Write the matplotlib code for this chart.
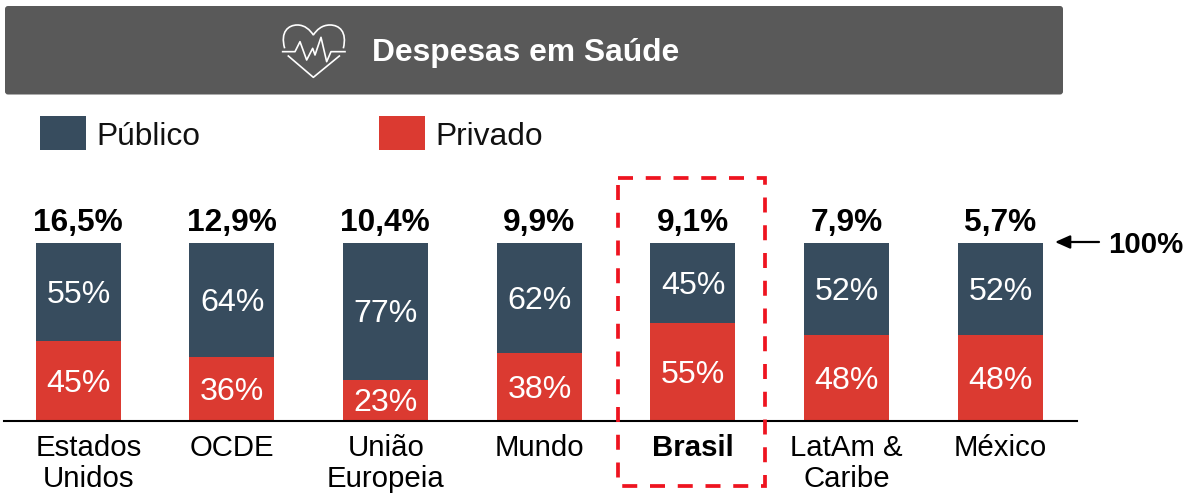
import matplotlib
matplotlib.use("Agg")
import matplotlib.pyplot as plt
from matplotlib.patches import FancyBboxPatch, PathPatch, Rectangle
from matplotlib.path import Path

plt.rcParams['font.family'] = ['Liberation Sans', 'DejaVu Sans']

categories = ["Estados\nUnidos", "OCDE", "União\nEuropeia", "Mundo", "Brasil", "LatAm &\nCaribe", "México"]
totals = ["16,5%", "12,9%", "10,4%", "9,9%", "9,1%", "7,9%", "5,7%"]
privado = [45, 36, 23, 38, 55, 48, 48]
publico = [55, 64, 77, 62, 45, 52, 52]
highlight = "Brasil"

color_pub = "#374C5E"
color_priv = "#DB3A31"
W, H = 1192, 498
FS = 23.1

fig = plt.figure(figsize=(W / 100, H / 100), dpi=100)

# overlay in pixel coords, for header, legend and frame
over = fig.add_axes([0, 0, 1, 1], zorder=3)
over.set_xlim(0, W)
over.set_ylim(H, 0)
over.axis("off")

# bars: x 0..6 -> centres 78..1000 px, y 0..100 -> 420..243 px
ax = fig.add_axes([4 / W, (H - 420.5) / H, (1077 - 4) / W, (420.5 - 243) / H], zorder=2)
ax.patch.set_alpha(0)
step = (1000 - 78) / 6
ax.set_xlim((4 - 78) / step, (1077 - 78) / step)
ax.set_ylim(0, 100)
x = list(range(len(categories)))
ax.bar(x, privado, width=85 / step, color=color_priv, linewidth=0)
ax.bar(x, publico, width=85 / step, bottom=privado, color=color_pub, linewidth=0)
for s in ["top", "left", "right"]:
    ax.spines[s].set_visible(False)
ax.spines["bottom"].set_linewidth(1.5)
ax.spines["bottom"].set_color("black")
ax.set_yticks([])
ax.set_xticks([])

for i in x:
    for val, mid in [(privado[i], privado[i] / 2), (publico[i], privado[i] + publico[i] / 2)]:
        ax.annotate("{}%".format(val), (i, mid), xytext=(0.4, -2.2), textcoords="offset points",
                    color="white", ha="center", va="center", fontsize=FS)
    ax.text(i, 103, totals[i], color="black", ha="center", va="bottom", fontsize=22.8, fontweight="bold")
    # first label sits right of its bar in the original
    dx = 7.5 if i == 0 else 0.3
    ax.annotate(categories[i], (i, 0), xytext=(dx, -9.8), textcoords="offset points", color="black",
                ha="center", va="top", fontsize=21.2, linespacing=1.13,
                fontweight="bold" if categories[i] == highlight else "normal")

# header
over.add_patch(FancyBboxPatch((5, 6), 1058, 88.5, boxstyle="round,pad=0,rounding_size=3", fc="#595959", ec="none"))
over.text(372, 53, "Despesas em Saúde", color="white", fontsize=22.9, fontweight="bold", ha="left", va="center")

# heart icon, points read in zoom crop (3x, offset x 260)
def zp(pts):
    return [(260 + a / 3, b / 3) for a, b in pts]

heart_top = zp([(74, 145), (60, 95), (85, 75), (112, 75), (135, 75), (150, 90), (160, 105),
                (170, 90), (185, 75), (210, 75), (238, 75), (262, 95), (250, 145)])
codes = [Path.MOVETO] + [Path.CURVE4] * 12
icon_kw = dict(fc="none", ec="white", lw=1.2)
over.add_patch(PathPatch(Path(heart_top, codes), **icon_kw))
heart_low = zp([(85, 168), (160, 232), (238, 168)])
over.plot(*zip(*heart_low), color="white", lw=1.2)
pulse = zp([(68, 155), (105, 155), (120, 125), (140, 180), (158, 145), (165, 165), (183, 112), (200, 185), (213, 155), (255, 155)])
over.plot(*zip(*pulse), color="white", lw=1.2)

# legend
over.add_patch(Rectangle((40, 116), 46, 34, fc=color_pub, ec="none"))
over.text(96.5, 136.5, "Público", fontsize=22.9, color="#111111", ha="left", va="center")
over.add_patch(Rectangle((379, 116), 46, 34, fc=color_priv, ec="none"))
over.text(435.5, 136.5, "Privado", fontsize=22.9, color="#111111", ha="left", va="center")

# 100% arrow
over.annotate("", xy=(1055, 242), xytext=(1099, 242),
              arrowprops=dict(arrowstyle="-|>,head_length=0.9,head_width=0.4", color="black", lw=1.6, shrinkA=0, shrinkB=0))
over.text(1108, 245, "100%", fontsize=21.2, fontweight="bold", color="black", ha="left", va="center")

# dashed frame around Brasil
over.add_patch(Rectangle((618, 178), 147, 308, fc="none", ec="#EE1420", lw=2.7, ls=(0, (4.0, 3.4))))

fig.savefig("out.png", dpi=100)
plt.close(fig)
